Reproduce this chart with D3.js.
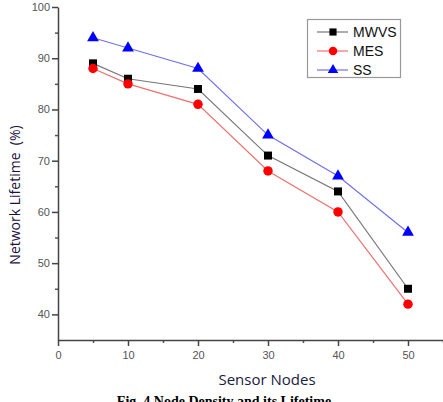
<!DOCTYPE html>
<html><head><meta charset="utf-8">
<script src="https://cdn.jsdelivr.net/npm/d3@7"></script>
<style>body{margin:0;background:#fff}svg{display:block}</style>
</head><body>
<svg id="c" width="443" height="402"></svg>
<script>
const nodes = [5, 10, 20, 30, 40, 50];
const mwvs = [89, 86, 84, 71, 64, 45];
const mes = [88, 85, 81, 68, 60, 42];
const ss = [94, 92, 88, 75, 67, 56];
const seriesNames = ["MWVS", "MES", "SS"];
const xTicks = [0, 10, 20, 30, 40, 50];
const yTicks = [40, 50, 60, 70, 80, 90, 100];

const svg = d3.select("#c");
const x = d3.scaleLinear().domain([0, 55]).range([58, 443]);
const y = d3.scaleLinear().domain([35, 100]).range([340, 7]);

// minor ticks
const g = svg.append("g");
g.append("g").attr("transform","translate(0,340)")
  .call(d3.axisBottom(x).tickValues([5,15,25,35,45,55]).tickSize(3).tickFormat(""))
  .call(s=>s.select(".domain").remove()).selectAll("line").attr("stroke","#555").attr("stroke-width",1.5);
g.append("g").attr("transform","translate(58,0)")
  .call(d3.axisLeft(y).tickValues([45,55,65,75,85,95]).tickSize(3).tickFormat(""))
  .call(s=>s.select(".domain").remove()).selectAll("line").attr("stroke","#555").attr("stroke-width",1.5);

const xa = g.append("g").attr("transform","translate(0,340)")
  .call(d3.axisBottom(x).tickValues(xTicks).tickSize(6).tickSizeOuter(0).tickPadding(5));
const ya = g.append("g").attr("transform","translate(58,0)")
  .call(d3.axisLeft(y).tickValues(yTicks).tickSize(6).tickSizeOuter(0).tickPadding(2));
[xa, ya].forEach(a=>{
  a.select(".domain").attr("stroke","#444").attr("stroke-width",1.5);
  a.selectAll(".tick line").attr("stroke","#444").attr("stroke-width",1.5);
  a.selectAll("text").attr("fill","#555").style("font-family","Liberation Sans, Arial, sans-serif").style("font-size","11px");
});

const data = [
  {name: seriesNames[0], vals: mwvs, line: "#777", mark: "#000", sym: d3.symbolSquare, size: 64},
  {name: seriesNames[1], vals: mes, line: "#f07070", mark: "#ff0000", sym: d3.symbolCircle, size: 70},
  {name: seriesNames[2], vals: ss, line: "#7070f0", mark: "#0000ff", sym: d3.symbolTriangle, size: 60}
];
const line = d3.line().x(d=>x(d[0])).y(d=>y(d[1]));
data.forEach(s=>{
  const pts = nodes.map((n,i)=>[n, s.vals[i]]);
  svg.append("path").attr("d", line(pts)).attr("fill","none").attr("stroke", s.line).attr("stroke-width",1.2);
  svg.selectAll(null).data(pts).enter().append("path")
    .attr("d", d3.symbol().type(s.sym).size(s.size))
    .attr("transform", d=>`translate(${x(d[0])},${y(d[1])})`)
    .attr("fill", s.mark);
});

// legend
const lg = svg.append("g");
lg.append("rect").attr("x",307.5).attr("y",19.5).attr("width",93).attr("height",58)
  .attr("fill","#fff").attr("stroke","#999").attr("stroke-width",1.2);
data.forEach((s,i)=>{
  const yy = 32 + i*19;
  lg.append("line").attr("x1",317).attr("x2",348).attr("y1",yy).attr("y2",yy).attr("stroke",s.line).attr("stroke-width",1.2);
  lg.append("path").attr("d", d3.symbol().type(s.sym).size(s.size*0.8)).attr("transform",`translate(333,${yy})`).attr("fill",s.mark);
  lg.append("text").attr("x",353).attr("y",yy+5).text(s.name)
    .style("font-family","Liberation Sans, Arial, sans-serif").style("font-size","14px").attr("fill","#111");
});

svg.append("text").attr("transform","translate(20,195) rotate(-90)").attr("text-anchor","middle")
  .style("font-family","Open Sans, sans-serif").style("font-size","14px").attr("fill","#201040")
  .attr("xml:space","preserve").text("Network Lifetime  (%)");
svg.append("text").attr("x",267).attr("y",385).attr("text-anchor","middle")
  .style("font-family","Open Sans, sans-serif").style("font-size","15px").attr("fill","#1a2040")
  .text("Sensor Nodes");
svg.append("text").attr("x",224).attr("y",406).attr("text-anchor","middle")
  .style("font-family","Liberation Serif, Times New Roman, serif").style("font-size","14px").style("font-weight","bold").attr("fill","#000")
  .text("Fig. 4 Node Density and its Lifetime");
</script>
</body></html>
